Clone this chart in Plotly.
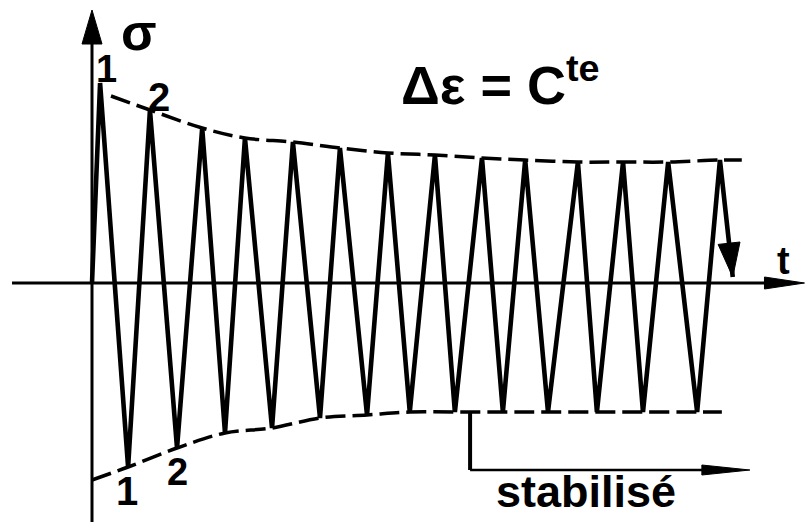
import plotly.graph_objects as go

# Strain-controlled cyclic test: stress at each load reversal (normalised to the first peak)
t_rev = [0.0, 0.17, 0.76, 1.22, 1.79, 2.32, 2.80, 3.22, 3.79, 4.23, 4.80, 5.22, 5.79,
         6.23, 6.69, 7.22, 7.64, 8.21, 8.65, 9.12, 9.60, 10.23, 10.63, 11.18, 11.60,
         12.13, 12.74, 13.22, 13.49]
sigma_rev = [0.0, 1.00, -0.92, 0.865, -0.825, 0.775, -0.75, 0.725, -0.725, 0.705, -0.675,
             0.675, -0.66, 0.65, -0.645, 0.64, -0.645, 0.625, -0.645, 0.615, -0.645,
             0.605, -0.645, 0.605, -0.645, 0.605, -0.645, 0.615, 0.03]

# Envelopes of the tension peaks and compression troughs
upper_t = [0.40, 1.22, 2.32, 3.22, 4.23, 5.22, 6.23, 7.22, 8.21, 9.12, 10.23, 11.18, 12.13, 13.22, 13.68]
upper_s = [0.935, 0.865, 0.775, 0.725, 0.705, 0.675, 0.65, 0.64, 0.625, 0.615, 0.605, 0.605, 0.605, 0.615, 0.615]
lower_t = [0.0, 0.76, 1.79, 2.80, 3.79, 4.80, 5.79, 6.69, 7.64, 8.65, 9.60, 10.63, 11.60, 12.74, 13.26]
lower_s = [-0.985, -0.92, -0.825, -0.75, -0.725, -0.675, -0.66, -0.645, -0.645, -0.645, -0.645,
           -0.645, -0.645, -0.645, -0.645]

W, H = 807, 522
X_RANGE = [-1.937, 15.053]
Y_RANGE = [-1.195, 1.415]
PX_X = W / (X_RANGE[1] - X_RANGE[0])
PX_Y = H / (Y_RANGE[1] - Y_RANGE[0])

INK = "#000000"
FONT = "Liberation Sans, Arial, sans-serif"


def head(tip_t, tip_s, from_t, from_s, length, half_w):
    """Filled triangular arrow head (sizes in pixels) pointing from 'from' to 'tip'."""
    dx = (tip_t - from_t) * PX_X
    dy = (tip_s - from_s) * PX_Y
    n = (dx * dx + dy * dy) ** 0.5
    ux, uy = dx / n, dy / n
    bx, by = -ux * length, -uy * length
    px, py = -uy * half_w, ux * half_w
    pts = [(0, 0), (bx + px, by + py), (bx - px, by - py)]
    coords = [(tip_t + a / PX_X, tip_s + b / PX_Y) for a, b in pts]
    path = "M {} {} L {} {} L {} {} Z".format(*[v for p in coords for v in p])
    return dict(type="path", path=path, xref="x", yref="y",
                fillcolor=INK, line=dict(color=INK, width=1), layer="above")


fig = go.Figure()

fig.add_trace(go.Scatter(x=upper_t, y=upper_s, mode="lines", line_shape="spline",
                         line=dict(color=INK, width=3.5, dash="20px,7px"), hoverinfo="skip"))
fig.add_trace(go.Scatter(x=lower_t, y=lower_s, mode="lines", line_shape="spline",
                         line=dict(color=INK, width=3.5, dash="20px,7px"), hoverinfo="skip"))
fig.add_trace(go.Scatter(x=t_rev, y=sigma_rev, mode="lines",
                         line=dict(color=INK, width=4.6), hoverinfo="skip"))

# axes and arrows
t_axis_left, t_axis_tip = -1.684, 15.0
s_axis_bottom, s_axis_tip = -1.2, 1.365
shapes = [
    dict(type="line", xref="x", yref="y", x0=t_axis_left, y0=0, x1=t_axis_tip - 0.5, y1=0,
         line=dict(color=INK, width=3)),
    head(t_axis_tip, 0, 0, 0, 40, 6),
    dict(type="line", xref="x", yref="y", x0=0, y0=s_axis_bottom, x1=0, y1=s_axis_tip - 0.1,
         line=dict(color=INK, width=3)),
    head(0, s_axis_tip, 0, 0, 34, 10),
    head(t_rev[-1], sigma_rev[-1], t_rev[-2], sigma_rev[-2], 34, 11),
    # stabilised-regime bracket
    dict(type="line", xref="x", yref="y", x0=7.96, y0=-0.645, x1=7.96, y1=-0.935,
         line=dict(color=INK, width=4)),
    dict(type="line", xref="x", yref="y", x0=7.96, y0=-0.935, x1=13.3, y1=-0.935,
         line=dict(color=INK, width=2.5)),
    head(13.85, -0.935, 7.96, -0.935, 48, 5),
]


def label(text, x, y, size, xanchor="center", yanchor="middle"):
    return dict(text=text, x=x, y=y, xref="x", yref="y", showarrow=False,
                xanchor=xanchor, yanchor=yanchor,
                font=dict(family=FONT, size=size, color=INK, weight="bold"))


annotations = [
    label("σ", 0.99, 1.255, 52),
    label("1", 0.30, 1.07, 38),
    label("2", 1.41, 0.93, 40),
    label("1", 0.74, -1.04, 40),
    label("2", 1.79, -0.945, 38),
    label("t", 14.55, 0.11, 38),
    label("Δε = C<sup>te</sup>", 8.61, 1.01, 54),
    label("stabilisé", 10.40, -1.04, 45),
]

fig.update_layout(
    width=W, height=H,
    margin=dict(l=0, r=0, t=0, b=0),
    paper_bgcolor="white", plot_bgcolor="white",
    showlegend=False,
    xaxis=dict(range=X_RANGE, visible=False, fixedrange=True),
    yaxis=dict(range=Y_RANGE, visible=False, fixedrange=True),
    shapes=shapes,
    annotations=annotations,
)

fig.write_html("out.html")
